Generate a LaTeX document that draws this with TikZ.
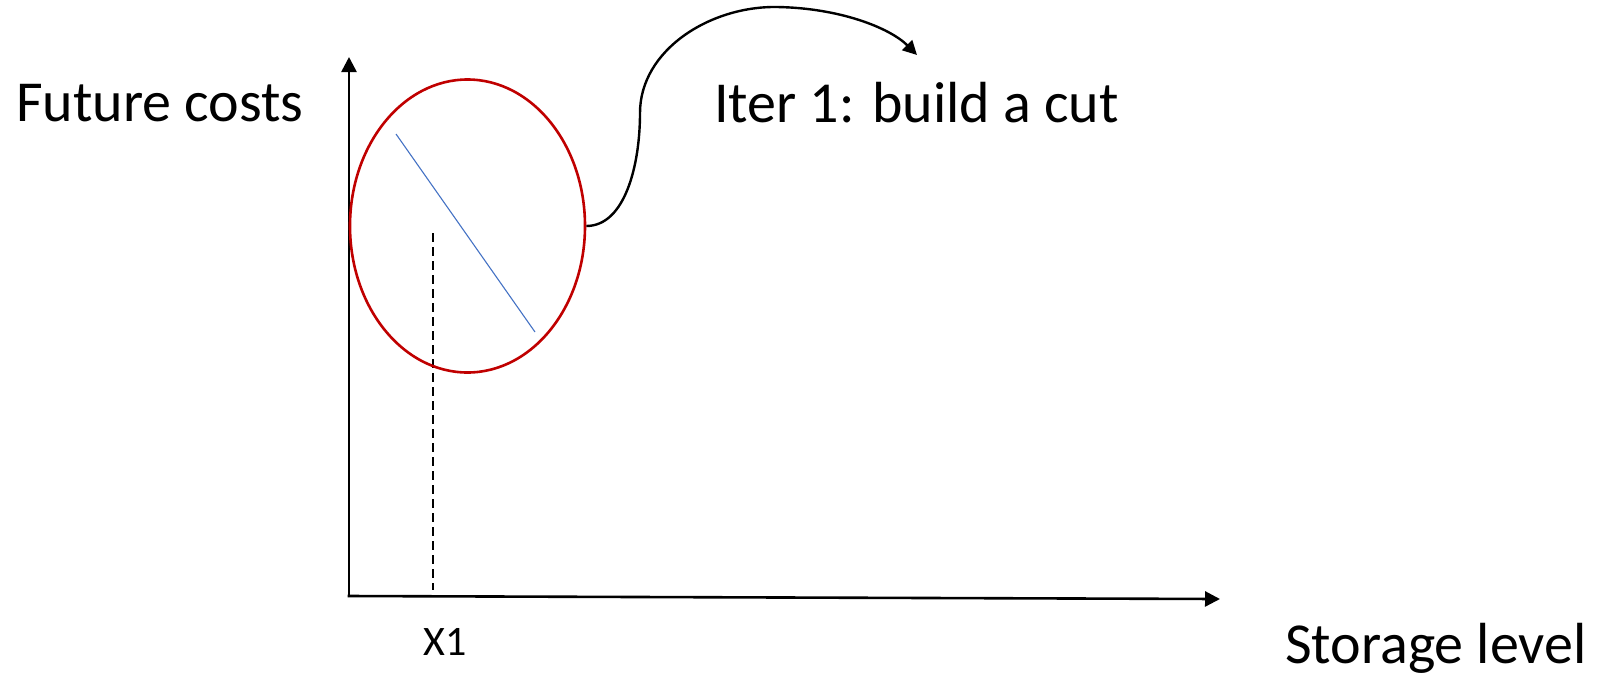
\documentclass[tikz,border=0pt]{standalone}
\usepackage{fontspec}
\setmainfont{Carlito}
\usetikzlibrary{arrows.meta,shapes.geometric}
\definecolor{cutred}{HTML}{C00000}
\definecolor{cutblue}{HTML}{4472C4}
\tikzset{
  axis/.style={line width=2.6pt,-{Triangle[length=15pt,width=15pt]}},
  biglabel/.style={font=\fontsize{58}{70}\selectfont,inner sep=0pt,anchor=base west},
  smalllabel/.style={font=\fontsize{42}{50}\selectfont,inner sep=0pt,anchor=base west},
  zone/.style={ellipse,draw=cutred,line width=2.6pt,inner sep=0pt},
  cutline/.style={draw=cutblue,line width=1.1pt},
  marker/.style={line width=1.6pt,dash pattern=on 9pt off 5pt},
  pointer/.style={line width=2.4pt,-{Triangle[length=14pt,width=14pt]}}
}
\begin{document}
\begin{tikzpicture}[x=1pt,y=-1pt]
  \useasboundingbox (0,0) rectangle (1597,675);
  % axes
  \coordinate (origin) at (349,596);
  \coordinate (ytip) at (349,57);
  \coordinate (xtip) at (1220,599);
  \draw[axis] ([yshift=-1.3pt]origin) -- (ytip);
  \draw[axis] ([xshift=-1.3pt]origin) -- (xtip);
  % axis labels
  \node[biglabel] (ylab) at (16,121) {Future costs};
  \node[biglabel] (xlab) at (1285,663) {Storage level};
  \node[smalllabel] (xone) at (423,655) {X1};
  % first trial point
  \coordinate (xtop) at (433,233);
  \coordinate (xbot) at (433,590);
  \draw[marker] (xtop) -- (xbot);
  % the cut
  \coordinate (cuta) at (396,134);
  \coordinate (cutb) at (535,332);
  \draw[cutline] (cuta) -- (cutb);
  % highlighted region
  \node[zone,minimum width=235pt,minimum height=293pt] (region) at (467.5,226) {};
  % annotation
  \node[biglabel] (iter) at (714,122) {Iter 1: build a cut};
  \coordinate (tipend) at (917,55);
  \draw[pointer] (region.east) .. controls (625,226) and (640,165) .. (640,113)
     .. controls (640,50) and (710,6) .. (777,7)
     .. controls (840,8) and (890,28) .. (tipend);
\end{tikzpicture}
\end{document}
